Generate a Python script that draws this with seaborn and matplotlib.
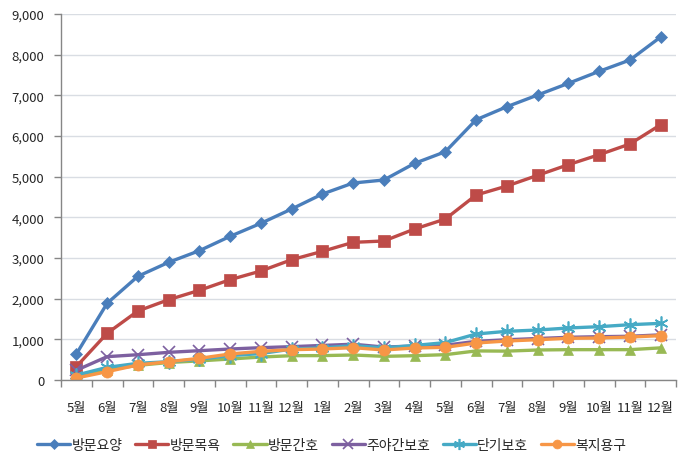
import matplotlib
matplotlib.use("Agg")
import matplotlib.pyplot as plt
import seaborn as sns
import pandas as pd
import numpy as np
from matplotlib.ticker import FuncFormatter, FixedLocator

months = ["5월", "6월", "7월", "8월", "9월", "10월", "11월", "12월", "1월", "2월",
          "3월", "4월", "5월", "6월", "7월", "8월", "9월", "10월", "11월", "12월"]

visit_care = [640, 1886, 2550, 2894, 3180, 3533, 3853, 4205, 4573, 4844,
              4918, 5328, 5614, 6400, 6720, 7008, 7295, 7590, 7868, 8434]
visit_bath = [330, 1148, 1697, 1975, 2205, 2467, 2680, 2958, 3164, 3385,
              3418, 3713, 3959, 4549, 4770, 5033, 5295, 5540, 5803, 6277]
visit_nurse = [60, 250, 360, 430, 470, 516, 565, 598, 600, 615,
               582, 598, 623, 715, 710, 738, 746, 746, 746, 790]
day_night = [240, 574, 622, 680, 721, 762, 795, 820, 850, 880,
             810, 835, 855, 950, 990, 1020, 1050, 1065, 1075, 1110]
short_term = [120, 311, 410, 450, 510, 600, 650, 760, 790, 845,
              790, 850, 920, 1131, 1197, 1229, 1279, 1311, 1360, 1393]
welfare = [49, 205, 369, 451, 533, 640, 705, 746, 762, 795,
           738, 787, 803, 910, 959, 991, 1025, 1033, 1057, 1090]

series_names = ["방문요양", "방문목욕", "방문간호", "주야간보호", "단기보호", "복지용구"]
series_values = [visit_care, visit_bath, visit_nurse, day_night, short_term, welfare]
colors = ["#4A7EBB", "#BE4B48", "#98B954", "#7D60A0", "#46AAC5", "#F79646"]
markers = ["D", "s", "^", "x", (6, 2, 0), "o"]
msizes = [6, 8, 7, 9, 10, 8]

sns.set_theme(style="white")
plt.rcParams['font.family'] = ['Noto Sans CJK KR', 'DejaVu Sans']

rows = []
for name, vals in zip(series_names, series_values):
    for i, v in enumerate(vals):
        rows.append({"idx": i, "value": v, "series": name})
df = pd.DataFrame(rows)

fig = plt.figure(figsize=(6.91, 4.64), dpi=100)
ax = fig.add_axes([61/691, 1-381/464, (676-61)/691, (381-15)/464])

for name, c, m, ms in zip(series_names, colors, markers, msizes):
    sub = df[df["series"] == name]
    sns.lineplot(data=sub, x="idx", y="value", ax=ax, color=c, marker=m,
                 markersize=ms, linewidth=2.4, label=name,
                 markeredgecolor=c, markeredgewidth=1.2 if m in ("x", (6, 2, 0)) else 0.5)

ax.set_xlim(-0.5, len(months) - 0.5)
ax.set_ylim(0, 9000)
ax.set_yticks(np.arange(0, 9001, 1000))
ax.yaxis.set_major_formatter(FuncFormatter(lambda v, p: f"{int(v):,}"))
ax.yaxis.grid(True, color="#D9DDE3", linewidth=1)
ax.set_axisbelow(True)

ax.xaxis.set_major_locator(FixedLocator(np.arange(-0.5, len(months), 1.0)))
ax.xaxis.set_minor_locator(FixedLocator(np.arange(len(months))))
ax.set_xticklabels([""] * len(np.arange(-0.5, len(months), 1.0)))
ax.set_xticklabels(months, minor=True)
ax.tick_params(axis="x", which="major", length=5, width=1, color="#868686", direction="out", bottom=True)
ax.tick_params(axis="x", which="minor", length=0, pad=15, labelsize=9.5)
ax.tick_params(axis="y", which="major", length=5, width=1, color="#868686", direction="out", left=True, labelsize=9.5, pad=7)

for s in ["top", "right"]:
    ax.spines[s].set_visible(False)
for s in ["left", "bottom"]:
    ax.spines[s].set_color("#868686")
    ax.spines[s].set_linewidth(1)

ax.set_xlabel("")
ax.set_ylabel("")

handles, labels = ax.get_legend_handles_labels()
ax.get_legend().remove()
fig.legend(handles, labels, loc="center", bbox_to_anchor=(0.48, 1-446/464), ncol=6,
           frameon=False, fontsize=10, handlelength=2.4, handletextpad=0.1,
           columnspacing=0.9, markerscale=0.8)

fig.savefig("out.png", dpi=100, facecolor="white")
